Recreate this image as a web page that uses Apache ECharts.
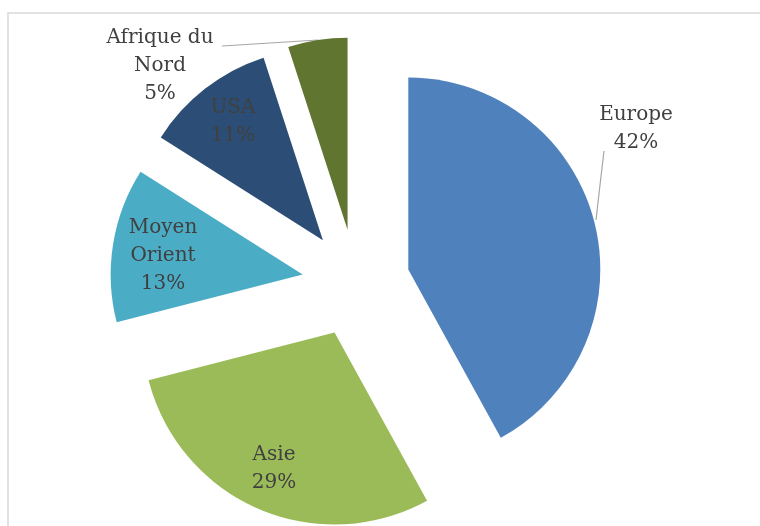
<!DOCTYPE html>
<html>
<head>
<meta charset="utf-8">
<script src="https://cdn.jsdelivr.net/npm/echarts@6/dist/echarts.min.js"></script>
<style>
  html, body { margin: 0; padding: 0; background: #fff; }
  #chart { width: 760px; height: 526px; }
</style>
</head>
<body>
<div id="chart"></div>
<script>
const regions = ['Europe', 'Asie', 'Moyen Orient', 'USA', 'Afrique du Nord']
const labelTexts = ['Europe', 'Asie', 'Moyen\nOrient', 'USA', 'Afrique du\nNord']
const shares = [42, 29, 13, 11, 5]
const colors = ['#4f81bd', '#9bbb59', '#4bacc6', '#2c4d75', '#5f7530']
// label centres (px)
const labelPos = [[636, 129], [274, 469], [163, 256], [233, 122], [160, 66]]
// leader lines for the two outside labels, null = label inside the slice
const leaders = [
  [[604, 151], [600, 185], [596, 220]],
  null, null, null,
  [[222, 46], [270, 43], [318, 40]]
]

const cx = 356, cy = 283, radius = 192
const explode = 54 // how far each slice is pulled out

const chart = echarts.init(document.getElementById('chart'))

// one pie per slice so each can be pulled out along its own middle angle
const total = shares.reduce((a, b) => a + b, 0)
let acc = 0
const series = shares.map((v, i) => {
  const mid = (acc + v / 2) / total * Math.PI * 2
  acc += v
  const ox = Math.sin(mid) * explode
  const oy = -Math.cos(mid) * explode
  return {
    type: 'pie',
    center: [cx + ox, cy + oy],
    radius: radius,
    startAngle: 90,
    clockwise: true,
    percentPrecision: 0,
    emphasis: { disabled: true },
    silent: true,
    label: {
      fontFamily: 'DejaVu Serif',
      fontSize: 20,
      lineHeight: 28,
      color: '#404040',
      align: 'center',
      formatter: p => labelTexts[p.dataIndex] + '\n' + p.percent + '%'
    },
    labelLine: {
      lineStyle: { color: '#a6a6a6', width: 1.2 }
    },
    labelLayout: p => {
      if (p.dataIndex !== i) return {}
      const out = {
        x: labelPos[i][0],
        y: labelPos[i][1],
        align: 'center',
        verticalAlign: 'middle'
      }
      if (leaders[i]) out.labelLinePoints = leaders[i]
      return out
    },
    data: regions.map((name, j) => ({
      name: name,
      value: shares[j],
      itemStyle: { color: j === i ? colors[j] : 'rgba(0,0,0,0)', borderWidth: 0 },
      label: { show: j === i, position: leaders[j] ? 'outside' : 'inside' },
      labelLine: { show: j === i && !!leaders[j] }
    }))
  }
})

chart.setOption({
  animation: false,
  backgroundColor: '#fff',
  graphic: [{
    type: 'rect',
    shape: { x: 8, y: 13, width: 800, height: 600 },
    style: { fill: 'none', stroke: '#d9d9d9', lineWidth: 1.5 },
    silent: true
  }],
  series: series
})
</script>
</body>
</html>
